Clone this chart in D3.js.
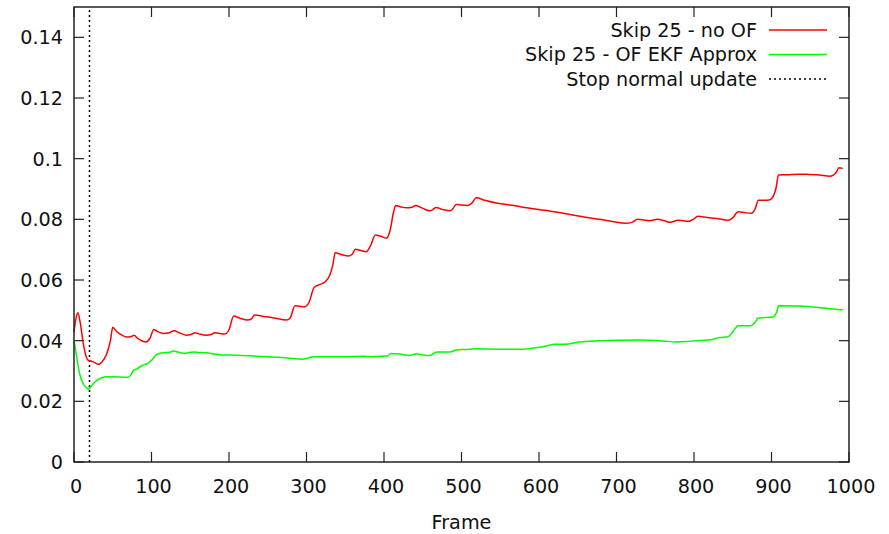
<!DOCTYPE html>
<html>
<head>
<meta charset="utf-8">
<script src="https://cdn.jsdelivr.net/npm/d3@7"></script>
<style>
  body { margin: 0; background: #fff; }
  svg { display: block; font-family: "DejaVu Sans", sans-serif; }
</style>
</head>
<body>
<div id="chart"></div>
<script>
// Skip 25 - no OF
const framesNoOF = [0, 2, 5, 8, 12, 16, 18, 22, 25, 31, 36, 42, 47, 50, 55, 62, 68, 74, 77.5, 82, 88, 93, 98, 103,
  108, 115, 122, 129, 137, 145, 151, 156, 163, 171, 177, 182, 190, 195, 200, 206, 214, 224, 229, 233, 245, 258,
  274, 279, 285, 292, 298, 303, 310, 317, 324, 330, 334, 337, 345, 354, 359, 363, 370, 377, 382, 389, 396, 403,
  408, 412, 415, 422, 429, 436, 441, 450, 459, 463, 467, 476, 485, 489, 493, 500, 508, 514, 519, 530, 545, 558,
  571, 584, 597, 610, 622, 640, 660, 678, 695, 712, 720, 727, 735, 743, 753, 762, 770, 779, 787, 794, 799, 805,
  817, 829, 844, 850, 857, 866, 874, 879, 883, 890, 897, 903, 906, 909, 920, 936, 948, 962, 975, 980, 984, 987, 992];
const valuesNoOF = [0.0428, 0.0465, 0.0492, 0.0460, 0.0390, 0.0345, 0.0336, 0.0333, 0.0330, 0.0322, 0.0330, 0.0355,
  0.0400, 0.0444, 0.0430, 0.0418, 0.0412, 0.0414, 0.0418, 0.0408, 0.0399, 0.0396, 0.0408, 0.0437, 0.0430, 0.0424,
  0.0425, 0.0433, 0.0425, 0.0418, 0.0420, 0.0426, 0.0421, 0.0418, 0.0420, 0.0426, 0.0423, 0.0422, 0.0436, 0.0481,
  0.0474, 0.0468, 0.0472, 0.0485, 0.0480, 0.0475, 0.0468, 0.0475, 0.0515, 0.0513, 0.0512, 0.0525, 0.0576, 0.0585,
  0.0594, 0.0616, 0.0650, 0.0690, 0.0684, 0.0679, 0.0685, 0.0701, 0.0697, 0.0693, 0.0710, 0.0748, 0.0744, 0.0738,
  0.0765, 0.0820, 0.0846, 0.0841, 0.0838, 0.0840, 0.0846, 0.0836, 0.0828, 0.0832, 0.0839, 0.0832, 0.0828, 0.0835,
  0.0849, 0.0847, 0.0846, 0.0855, 0.0871, 0.0863, 0.0854, 0.0849, 0.0844, 0.0838, 0.0833, 0.0829, 0.0824, 0.0816,
  0.0807, 0.0800, 0.0793, 0.0787, 0.0790, 0.0800, 0.0798, 0.0795, 0.0800, 0.0795, 0.0790, 0.0797, 0.0795, 0.0794,
  0.0800, 0.0810, 0.0806, 0.0803, 0.0797, 0.0805, 0.0825, 0.0822, 0.0820, 0.0835, 0.0863, 0.0863, 0.0864, 0.0880,
  0.0905, 0.0946, 0.0947, 0.0949, 0.0948, 0.0946, 0.0942, 0.0946, 0.0957, 0.0970, 0.0968];

// Skip 25 - OF EKF Approx
const framesEKF = [0, 3, 6, 9, 12, 16, 19, 22, 25, 30, 36, 43, 50, 60, 70, 74, 77, 81, 85, 90, 96, 101, 106, 112,
  119, 124, 128, 135, 143, 148, 154, 162, 171, 180, 192, 210, 235, 255, 265, 278, 295, 300, 308, 330, 351, 372,
  378, 386, 400, 405, 409, 420, 433, 442, 450, 459, 463, 468, 485, 493, 505, 519, 550, 579, 590, 601, 612, 620,
  635, 648, 660, 674, 700, 730, 760, 777, 790, 803, 815, 824, 832, 844, 849, 853, 857, 872, 877, 880, 883, 899,
  904, 906, 908, 909, 936, 960, 992];
const valuesEKF = [0.0402, 0.0355, 0.0305, 0.0275, 0.0258, 0.0245, 0.0240, 0.0250, 0.0259, 0.0270, 0.0278, 0.0281,
  0.0281, 0.0280, 0.0279, 0.0290, 0.0303, 0.0306, 0.0314, 0.0320, 0.0327, 0.0338, 0.0353, 0.0359, 0.0361, 0.0362,
  0.0366, 0.0362, 0.0358, 0.0361, 0.0363, 0.0361, 0.0360, 0.0356, 0.0353, 0.0352, 0.0349, 0.0346, 0.0345, 0.0342,
  0.0339, 0.0341, 0.0347, 0.0347, 0.0347, 0.0349, 0.0348, 0.0347, 0.0349, 0.0350, 0.0358, 0.0356, 0.0351, 0.0357,
  0.0353, 0.0351, 0.0356, 0.0363, 0.0363, 0.0369, 0.0371, 0.0373, 0.0372, 0.0372, 0.0375, 0.0378, 0.0384, 0.0388,
  0.0388, 0.0394, 0.0397, 0.0400, 0.0401, 0.0402, 0.0399, 0.0396, 0.0397, 0.0400, 0.0401, 0.0404, 0.0410, 0.0413,
  0.0425, 0.0440, 0.0449, 0.0449, 0.0455, 0.0465, 0.0475, 0.0477, 0.0482, 0.0490, 0.0505, 0.0515, 0.0514, 0.0509,
  0.0501];

const stopFrame = 20;
const seriesNames = ['Skip 25 - no OF', 'Skip 25 - OF EKF Approx', 'Stop normal update'];
const xTicks = [0, 100, 200, 300, 400, 500, 600, 700, 800, 900, 1000];
const yTicks = [0, 0.02, 0.04, 0.06, 0.08, 0.1, 0.12, 0.14];
const yTickLabels = ['0', '0.02', '0.04', '0.06', '0.08', '0.1', '0.12', '0.14'];
const xLabel = 'Frame';

const width = 889, height = 534;
const margin = {top: 7, right: 40, bottom: 72, left: 74};
const fontSize = 19.2;
const tickLen = 10;

const svg = d3.select('#chart').append('svg')
  .attr('width', width)
  .attr('height', height);

const x = d3.scaleLinear().domain([0, 1000]).range([margin.left, width - margin.right]);
const y = d3.scaleLinear().domain([0, 0.15]).range([height - margin.bottom, margin.top]);

const frameColor = '#222';

// ticks (mirrored on all sides, pointing inward)
const ticks = svg.append('g').attr('stroke', frameColor).attr('stroke-width', 1.2);
xTicks.forEach(function(t) {
  ticks.append('line').attr('x1', x(t)).attr('x2', x(t)).attr('y1', y(0)).attr('y2', y(0) - tickLen);
  ticks.append('line').attr('x1', x(t)).attr('x2', x(t)).attr('y1', y(0.15)).attr('y2', y(0.15) + tickLen);
});
yTicks.forEach(function(t) {
  ticks.append('line').attr('x1', x(0)).attr('x2', x(0) + tickLen).attr('y1', y(t)).attr('y2', y(t));
  ticks.append('line').attr('x1', x(1000)).attr('x2', x(1000) - tickLen).attr('y1', y(t)).attr('y2', y(t));
});

// tick labels
svg.append('g').selectAll('text')
  .data(xTicks)
  .enter().append('text')
  .attr('x', d => x(d) + 2)
  .attr('y', y(0) + 31)
  .attr('text-anchor', 'middle')
  .attr('font-size', fontSize)
  .attr('fill', '#111')
  .text(d => d);

svg.append('g').selectAll('text')
  .data(yTicks)
  .enter().append('text')
  .attr('x', x(0) - 11)
  .attr('y', d => y(d))
  .attr('dy', '0.36em')
  .attr('text-anchor', 'end')
  .attr('font-size', fontSize)
  .attr('fill', '#111')
  .text((d, i) => yTickLabels[i]);

svg.append('text')
  .attr('x', (x(0) + x(1000)) / 2)
  .attr('y', y(0) + 67)
  .attr('text-anchor', 'middle')
  .attr('font-size', fontSize)
  .attr('fill', '#111')
  .text(xLabel);

// stop normal update marker
svg.append('line')
  .attr('x1', x(stopFrame)).attr('x2', x(stopFrame))
  .attr('y1', y(0)).attr('y2', y(0.15))
  .attr('stroke', '#000')
  .attr('stroke-width', 1.5)
  .attr('stroke-dasharray', '2,3');

const line = d3.line()
  .curve(d3.curveMonotoneX)
  .x(d => x(d[0]))
  .y(d => y(d[1]));

svg.append('path')
  .datum(framesNoOF.map((f, i) => [f, valuesNoOF[i]]))
  .attr('fill', 'none')
  .attr('stroke', '#ff0000')
  .attr('stroke-width', 1.5)
  .attr('d', line);

svg.append('path')
  .datum(framesEKF.map((f, i) => [f, valuesEKF[i]]))
  .attr('fill', 'none')
  .attr('stroke', '#00ff00')
  .attr('stroke-width', 1.5)
  .attr('d', line);

// frame
svg.append('rect')
  .attr('x', x(0)).attr('y', y(0.15))
  .attr('width', x(1000) - x(0))
  .attr('height', y(0) - y(0.15))
  .attr('fill', 'none')
  .attr('stroke', frameColor)
  .attr('stroke-width', 1.5);

// legend
const legendStyles = [
  {color: '#ff0000', dash: null},
  {color: '#00ff00', dash: null},
  {color: '#000', dash: '2,3'}
];
const legend = svg.append('g');
seriesNames.forEach(function(name, i) {
  const ly = 30 + i * 24.5;
  legend.append('text')
    .attr('x', 757)
    .attr('y', ly)
    .attr('dy', '0.36em')
    .attr('text-anchor', 'end')
    .attr('font-size', fontSize)
    .attr('fill', '#111')
    .text(name);
  legend.append('line')
    .attr('x1', 769).attr('x2', 827)
    .attr('y1', ly).attr('y2', ly)
    .attr('stroke', legendStyles[i].color)
    .attr('stroke-width', 1.5)
    .attr('stroke-dasharray', legendStyles[i].dash);
});
</script>
</body>
</html>
